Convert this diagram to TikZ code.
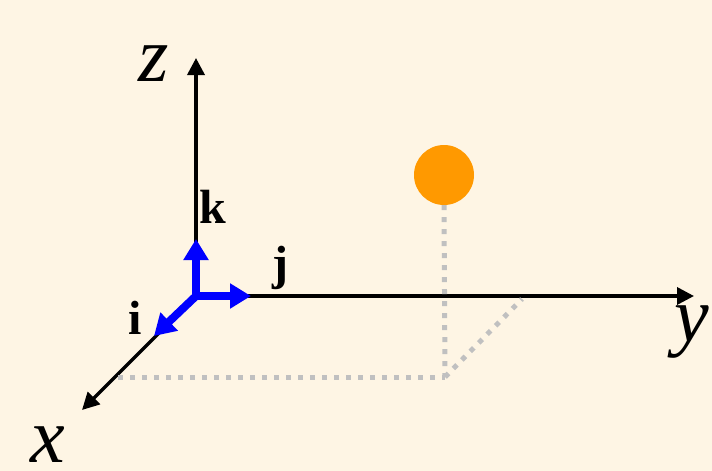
\documentclass[tikz,border=0pt]{standalone}
\usepackage{fontspec}
\setmainfont{Liberation Serif}
\usetikzlibrary{arrows.meta, positioning}
\definecolor{cream}{RGB}{254,245,228}
\definecolor{unitblue}{RGB}{0,0,255}
\definecolor{ballorange}{RGB}{255,153,0}
\definecolor{guidegray}{RGB}{192,192,192}

\begin{document}
\begin{tikzpicture}[x=1pt, y=-1pt,
  axis/.style={line width=3.5pt, -{Triangle[length=17pt, width=17pt]}},
  unitvec/.style={line width=8pt, unitblue, -{Triangle[length=21pt, width=24pt]}},
  guide/.style={line width=5pt, guidegray, dash pattern=on 5pt off 7pt},
  axlabel/.style={font=\fontsize{78}{78}\selectfont\itshape, inner sep=0pt},
  veclabel/.style={font=\fontsize{48}{48}\selectfont\bfseries, inner sep=0pt},
  ball/.style={circle, fill=ballorange, minimum size=60pt, inner sep=0pt}]
  \fill[cream] (0,0) rectangle (712,471);
  \useasboundingbox (0,0) rectangle (712,471);

  % axes
  \coordinate (O) at (196,296);
  \coordinate (zend) at (196,58);
  \coordinate (yend) at (694,296);
  \coordinate (xend) at (82,410);
  \draw[axis] (O) -- (zend);
  \draw[axis] (O) -- (yend);
  \draw[axis] (O) -- (xend);
  \node[axlabel] (zlab) at (154,64) {z};
  \node[axlabel] (ylab) at (692,332) {y};
  \node[axlabel] (xlab) at (48,445) {x};

  % projection of the point
  \coordinate (foot) at (445,377);
  \coordinate (xfoot) at (118,377);
  \coordinate (yfoot) at (522,299);
  \draw[guide] (xfoot) -- (foot);
  \draw[guide] (foot) -- (yfoot);
  \node[ball] (pt) at (444,175) {};
  \draw[guide] (pt.south) -- (foot);

  % unit vectors
  \coordinate (kend) at (196,239);
  \coordinate (jend) at (251,296);
  \coordinate (iend) at (154,336);
  \draw[unitvec] (O) -- (kend);
  \draw[unitvec] (O) -- (jend);
  \draw[unitvec] (O) -- (iend);
  \node[veclabel] (klab) at (213,207) {k};
  \node[veclabel] (jlab) at (280,268) {j};
  \node[veclabel] (ilab) at (135,318) {i};
\end{tikzpicture}
\end{document}
